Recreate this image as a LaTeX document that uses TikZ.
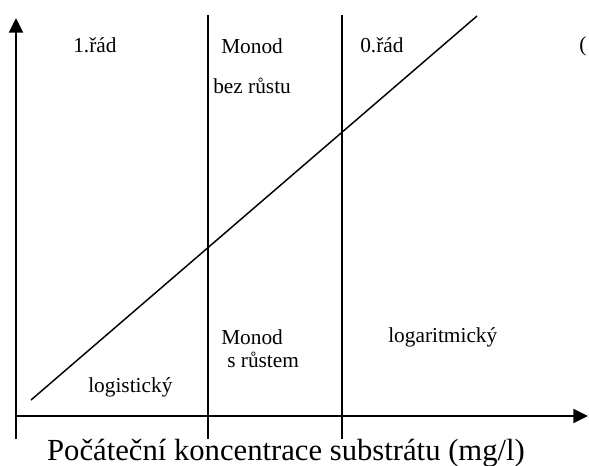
\documentclass[tikz,border=0pt]{standalone}
\usepackage{fontspec}
\setmainfont{Liberation Serif}
\usetikzlibrary{arrows.meta}

\begin{document}
\begin{tikzpicture}[
    x=0.75pt, y=-0.75pt,
    axisline/.style={
        line width=1.5pt,
        -{Triangle[length=11pt, width=10.5pt]}
    },
    divline/.style={
        line width=1.1pt
    },
    zonelabel/.style={
        anchor=base west,
        inner sep=0pt,
        font=\fontsize{16}{18}\selectfont
    }
]
    \useasboundingbox (0,0) rectangle (589,465);

    % Axes
    \coordinate (ybot) at (16,439);
    \coordinate (ytop) at (16,18);
    \coordinate (xleft) at (16,416);
    \coordinate (xright) at (588,416);
    \draw[axisline] (ybot) -- (ytop);
    \draw[axisline] (xleft) -- (xright);

    % Zone borders
    \coordinate (b1top) at (208,15);
    \coordinate (b1bot) at (208,439);
    \coordinate (b2top) at (342,15);
    \coordinate (b2bot) at (342,439);
    \draw[divline] (b1top) -- (b1bot);
    \draw[divline] (b2top) -- (b2bot);

    % Diagonal
    \coordinate (dstart) at (31,400);
    \coordinate (dend) at (477,16);
    \draw[divline] (dstart) -- (dend);

    % Upper labels
    \node[zonelabel] (rad1) at (73,52) {1.řád};
    \node[zonelabel] (monodA) at (221,53) {Monod};
    \node[zonelabel] (bez) at (213,93) {bez růstu};
    \node[zonelabel] (rad0) at (360,52) {0.řád};
    \node[zonelabel] (paren) at (579,51) {(};

    % Lower labels
    \node[zonelabel] (monodB) at (221,344) {Monod};
    \node[zonelabel] (srust) at (227,367) {s růstem};
    \node[zonelabel] (logar) at (388,342) {logaritmický};
    \node[zonelabel] (logis) at (88,392) {logistický};

    % Axis title
    \node[anchor=base, inner sep=0pt, font=\fontsize{23}{26}\selectfont] (xtitle) at (286,460) {Počáteční koncentrace substrátu (mg/l)};
\end{tikzpicture}
\end{document}
